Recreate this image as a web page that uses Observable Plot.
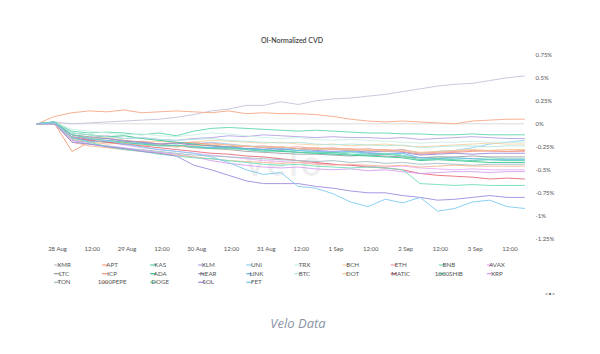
<!DOCTYPE html>
<html>
<head>
<meta charset="utf-8">
<script src="https://cdn.jsdelivr.net/npm/d3@7"></script>
<script src="https://cdn.jsdelivr.net/npm/@observablehq/plot@0.6"></script>
<style>
  html, body { margin: 0; padding: 0; background: #fff; }
  #chart { width: 600px; height: 354px; }
</style>
</head>
<body>
<div id="chart"></div>
<script>
// ---- data (values in %) ----
const times = [
  "2024-08-27T17:00Z","2024-08-27T23:00Z","2024-08-28T05:00Z","2024-08-28T11:00Z",
  "2024-08-28T17:00Z","2024-08-28T23:00Z","2024-08-29T05:00Z","2024-08-29T11:00Z",
  "2024-08-29T17:00Z","2024-08-29T23:00Z","2024-08-30T05:00Z","2024-08-30T11:00Z",
  "2024-08-30T17:00Z","2024-08-30T23:00Z","2024-08-31T05:00Z","2024-08-31T11:00Z",
  "2024-08-31T17:00Z","2024-08-31T23:00Z","2024-09-01T05:00Z","2024-09-01T11:00Z",
  "2024-09-01T17:00Z","2024-09-01T23:00Z","2024-09-02T05:00Z","2024-09-02T11:00Z",
  "2024-09-02T17:00Z","2024-09-02T23:00Z","2024-09-03T05:00Z","2024-09-03T11:00Z",
  "2024-09-03T17:00Z"
];

const XMR  = [0,0.02,0,0.01,0.02,0.03,0.04,0.05,0.07,0.1,0.14,0.16,0.2,0.2,0.24,0.21,0.25,0.27,0.28,0.3,0.32,0.35,0.38,0.41,0.43,0.44,0.47,0.5,0.52];
const APT  = [0,0.08,0.12,0.14,0.13,0.15,0.12,0.13,0.14,0.13,0.12,0.14,0.11,0.12,0.11,0.11,0.1,0.08,0.05,0.03,0.02,0.03,0.02,0.01,0,0.03,0.04,0.05,0.05];
const KAS  = [0,0.02,-0.08,-0.1,-0.09,-0.1,-0.12,-0.1,-0.13,-0.08,-0.05,-0.04,-0.05,-0.06,-0.07,-0.08,-0.07,-0.08,-0.09,-0.1,-0.1,-0.11,-0.11,-0.12,-0.12,-0.11,-0.12,-0.12,-0.12];
const XLM  = [0,0.01,-0.12,-0.15,-0.13,-0.16,-0.15,-0.17,-0.18,-0.16,-0.15,-0.13,-0.14,-0.12,-0.13,-0.14,-0.15,-0.14,-0.15,-0.15,-0.16,-0.15,-0.17,-0.16,-0.15,-0.14,-0.15,-0.16,-0.16];
const UNI  = [0,0.02,-0.15,-0.18,-0.2,-0.22,-0.2,-0.24,-0.25,-0.22,-0.2,-0.22,-0.24,-0.25,-0.26,-0.27,-0.28,-0.27,-0.29,-0.3,-0.3,-0.28,-0.32,-0.3,-0.29,-0.26,-0.22,-0.2,-0.18];
const TRX  = [0,0.01,-0.06,-0.08,-0.1,-0.12,-0.11,-0.13,-0.14,-0.12,-0.1,-0.11,-0.13,-0.15,-0.16,-0.15,-0.17,-0.18,-0.17,-0.18,-0.19,-0.2,-0.21,-0.2,-0.2,-0.19,-0.2,-0.2,-0.2];
const BCH  = [0,0.0,-0.14,-0.16,-0.15,-0.18,-0.2,-0.19,-0.21,-0.2,-0.18,-0.19,-0.2,-0.21,-0.2,-0.22,-0.23,-0.22,-0.24,-0.23,-0.22,-0.24,-0.25,-0.24,-0.23,-0.22,-0.21,-0.22,-0.22];
const ETH  = [0,0.01,-0.18,-0.2,-0.19,-0.22,-0.21,-0.23,-0.24,-0.22,-0.21,-0.23,-0.25,-0.24,-0.26,-0.25,-0.27,-0.26,-0.28,-0.27,-0.29,-0.28,-0.32,-0.31,-0.3,-0.29,-0.3,-0.3,-0.3];
const BNB  = [0,0.02,-0.17,-0.2,-0.19,-0.21,-0.23,-0.22,-0.25,-0.24,-0.26,-0.27,-0.28,-0.29,-0.3,-0.29,-0.31,-0.32,-0.31,-0.33,-0.32,-0.34,-0.37,-0.36,-0.37,-0.38,-0.37,-0.38,-0.38];
const AVAX = [0,0.01,-0.15,-0.18,-0.2,-0.23,-0.26,-0.28,-0.3,-0.32,-0.34,-0.36,-0.38,-0.4,-0.41,-0.42,-0.43,-0.44,-0.45,-0.46,-0.47,-0.46,-0.48,-0.49,-0.5,-0.49,-0.5,-0.5,-0.5];
const LTC  = [0,0.02,-0.12,-0.14,-0.16,-0.18,-0.2,-0.22,-0.24,-0.26,-0.27,-0.28,-0.3,-0.31,-0.32,-0.33,-0.33,-0.34,-0.35,-0.34,-0.35,-0.36,-0.37,-0.36,-0.36,-0.35,-0.36,-0.36,-0.36];
const ICP  = [0,0.0,-0.3,-0.2,-0.18,-0.2,-0.19,-0.22,-0.21,-0.2,-0.23,-0.25,-0.24,-0.26,-0.25,-0.27,-0.26,-0.28,-0.27,-0.29,-0.28,-0.3,-0.33,-0.32,-0.31,-0.3,-0.29,-0.3,-0.29];
const ADA  = [0,0.02,-0.1,-0.12,-0.14,-0.13,-0.16,-0.18,-0.2,-0.22,-0.24,-0.26,-0.27,-0.28,-0.3,-0.31,-0.32,-0.33,-0.34,-0.35,-0.36,-0.37,-0.4,-0.39,-0.4,-0.41,-0.42,-0.42,-0.42];
const NEAR = [0,0.01,-0.14,-0.17,-0.16,-0.19,-0.2,-0.22,-0.21,-0.23,-0.24,-0.25,-0.27,-0.26,-0.28,-0.27,-0.29,-0.3,-0.29,-0.31,-0.3,-0.31,-0.34,-0.33,-0.32,-0.33,-0.32,-0.32,-0.32];
const LINK = [0,0.0,-0.16,-0.18,-0.2,-0.22,-0.21,-0.23,-0.24,-0.25,-0.26,-0.25,-0.27,-0.28,-0.27,-0.29,-0.3,-0.31,-0.3,-0.32,-0.33,-0.32,-0.37,-0.38,-0.37,-0.38,-0.39,-0.39,-0.39];
const BTC  = [0,0.02,-0.1,-0.12,-0.14,-0.16,-0.15,-0.17,-0.18,-0.17,-0.16,-0.18,-0.19,-0.2,-0.21,-0.2,-0.22,-0.23,-0.22,-0.23,-0.24,-0.23,-0.26,-0.25,-0.24,-0.24,-0.25,-0.24,-0.24];
const DOT  = [0,0.01,-0.16,-0.2,-0.22,-0.21,-0.24,-0.23,-0.25,-0.24,-0.22,-0.23,-0.24,-0.26,-0.25,-0.27,-0.28,-0.27,-0.29,-0.28,-0.3,-0.29,-0.31,-0.3,-0.29,-0.28,-0.29,-0.28,-0.28];
const MATIC= [0,0.01,-0.15,-0.18,-0.2,-0.22,-0.24,-0.26,-0.28,-0.3,-0.32,-0.33,-0.35,-0.36,-0.38,-0.4,-0.42,-0.44,-0.45,-0.47,-0.48,-0.5,-0.54,-0.56,-0.57,-0.58,-0.6,-0.59,-0.6];
const SHIB = [0,0.02,-0.12,-0.16,-0.18,-0.2,-0.22,-0.24,-0.23,-0.25,-0.27,-0.26,-0.28,-0.3,-0.29,-0.31,-0.32,-0.31,-0.33,-0.34,-0.33,-0.35,-0.39,-0.38,-0.39,-0.4,-0.39,-0.4,-0.4];
const XRP  = [0,0.0,-0.18,-0.22,-0.24,-0.26,-0.29,-0.31,-0.33,-0.36,-0.4,-0.43,-0.45,-0.47,-0.48,-0.47,-0.49,-0.5,-0.49,-0.51,-0.5,-0.52,-0.54,-0.53,-0.52,-0.52,-0.53,-0.52,-0.52];
const TON  = [0,0.01,-0.2,-0.22,-0.24,-0.27,-0.28,-0.3,-0.32,-0.34,-0.35,-0.36,-0.37,-0.38,-0.39,-0.4,-0.41,-0.4,-0.42,-0.41,-0.43,-0.42,-0.44,-0.43,-0.44,-0.45,-0.44,-0.44,-0.44];
const PEPE = [0,0.0,-0.2,-0.24,-0.26,-0.28,-0.3,-0.32,-0.34,-0.36,-0.38,-0.4,-0.41,-0.42,-0.43,-0.42,-0.44,-0.45,-0.44,-0.45,-0.46,-0.45,-0.47,-0.46,-0.45,-0.46,-0.46,-0.46,-0.46];
const DOGE = [0,0.01,-0.15,-0.2,-0.25,-0.28,-0.3,-0.33,-0.35,-0.37,-0.38,-0.4,-0.42,-0.44,-0.45,-0.44,-0.46,-0.47,-0.48,-0.47,-0.48,-0.5,-0.65,-0.66,-0.67,-0.66,-0.67,-0.67,-0.67];
const SOL  = [0,0.0,-0.2,-0.22,-0.25,-0.27,-0.3,-0.32,-0.35,-0.45,-0.5,-0.56,-0.62,-0.65,-0.65,-0.65,-0.68,-0.7,-0.73,-0.75,-0.75,-0.78,-0.8,-0.83,-0.82,-0.8,-0.78,-0.8,-0.8];
const FET  = [0,0.01,-0.15,-0.2,-0.18,-0.22,-0.25,-0.28,-0.3,-0.32,-0.36,-0.42,-0.5,-0.55,-0.53,-0.68,-0.7,-0.76,-0.85,-0.9,-0.82,-0.86,-0.8,-0.95,-0.92,-0.85,-0.83,-0.9,-0.92];

// legend order (row-major, 10 columns)
const names = ["XMR","APT","KAS","XLM","UNI","TRX","BCH","ETH","BNB","AVAX",
               "LTC","ICP","ADA","NEAR","LINK","BTC","DOT","MATIC","1000SHIB","XRP",
               "TON","1000PEPE","DOGE","SOL","FET"];
const values = [XMR,APT,KAS,XLM,UNI,TRX,BCH,ETH,BNB,AVAX,
                LTC,ICP,ADA,NEAR,LINK,BTC,DOT,MATIC,SHIB,XRP,
                TON,PEPE,DOGE,SOL,FET];
const colors = ["#c6c2d8","#f5a886","#5ed6ae","#b5a3e2","#8ed2f0","#cdeee8","#f6d2a6","#f5a3ab","#7fdfc3","#e8aef4",
                "#a2a2a6","#f29b7b","#36c491","#9b89d8","#66b8ea","#b4e5dc","#f3c48f","#e86c79","#55d2ab","#d59ff0",
                "#a2c0c7","#f7b797","#70dfba","#9f8ce0","#7fcbef"];
const yTicks = [0.75,0.5,0.25,0,-0.25,-0.5,-0.75,-1,-1.25];
const xTicks = ["2024-08-28T00:00Z","2024-08-28T12:00Z","2024-08-29T00:00Z","2024-08-29T12:00Z",
                "2024-08-30T00:00Z","2024-08-30T12:00Z","2024-08-31T00:00Z","2024-08-31T12:00Z",
                "2024-09-01T00:00Z","2024-09-01T12:00Z","2024-09-02T00:00Z","2024-09-02T12:00Z",
                "2024-09-03T00:00Z","2024-09-03T12:00Z"];
const months = ["Jan","Feb","Mar","Apr","May","Jun","Jul","Aug","Sep","Oct","Nov","Dec"];

// ---- build table ----
const rows = [];
names.forEach((n, k) => values[k].forEach((v, i) => rows.push({name: n, t: new Date(times[i]), v})));

const fmtX = d => d.getUTCHours() === 12 ? "12:00" : `${d.getUTCDate()} ${months[d.getUTCMonth()]}`;

const svg = Plot.plot({
  width: 600,
  height: 354,
  marginLeft: 36.7,
  marginRight: 76,
  marginTop: 54.3,
  marginBottom: 115.7,
  style: {fontFamily: "Lato, 'Noto Sans', sans-serif", fontSize: "6px", color: "#555", background: "#fff"},
  x: {type: "utc", domain: [new Date(times[0]), new Date(times[times.length - 1])], label: null},
  y: {domain: [-1.25, 0.75], label: null},
  color: {domain: names, range: colors},
  marks: [
    Plot.axisY({anchor: "right", ticks: yTicks, tickFormat: d => d + "%", tickSize: 0, tickPadding: 11, label: null}),
    Plot.axisX({ticks: xTicks.map(s => new Date(s)), tickFormat: fmtX, tickSize: 0, tickPadding: 8, label: null}),
    Plot.ruleY([0], {stroke: "#dcdcdc", strokeWidth: 1}),
    Plot.lineY(rows, {x: "t", y: "v", z: "name", stroke: "name", strokeWidth: 1, strokeOpacity: 0.9, curve: "linear"})
  ]
});

const s = d3.select(svg);
// watermark
s.insert("text", ":first-child")
  .attr("x", 285).attr("y", 176)
  .attr("text-anchor", "middle")
  .attr("font-size", 36).attr("font-weight", 700)
  .attr("letter-spacing", 3)
  .attr("fill", "#000").attr("fill-opacity", 0.07)
  .text("velo");
// title
s.append("text").attr("x", 292).attr("y", 41).attr("dy", "0.35em")
  .attr("text-anchor", "middle").attr("font-size", 7).attr("font-weight", 600)
  .attr("fill", "#444").text("OI-Normalized CVD");
// legend
const lg = s.append("g").attr("font-size", 6.2);
const rowY = [265, 273.7, 282.3];
names.forEach((n, k) => {
  const col = k % 10, row = Math.floor(k / 10);
  const x0 = 54 + col * 48.1;
  const y0 = rowY[row];
  lg.append("line").attr("x1", x0).attr("x2", x0 + 6).attr("y1", y0).attr("y2", y0)
    .attr("stroke", colors[k]).attr("stroke-width", 1.3);
  lg.append("text").attr("x", x0 + 10).attr("y", y0).attr("dy", "0.35em")
    .attr("fill", "#555").text(n);
});
// pager glyph
s.append("text").attr("x", 550).attr("y", 293.5).attr("dy", "0.35em")
  .attr("text-anchor", "middle").attr("font-size", 6).attr("fill", "#666").text("<•>");
// caption
s.append("text").attr("x", 298).attr("y", 323).attr("dy", "0.35em")
  .attr("text-anchor", "middle").attr("font-size", 13).attr("font-style", "italic")
  .attr("font-family", "'Open Sans', sans-serif")
  .attr("fill", "#8a93a6").text("Velo Data");

document.getElementById("chart").appendChild(svg);
</script>
</body>
</html>
